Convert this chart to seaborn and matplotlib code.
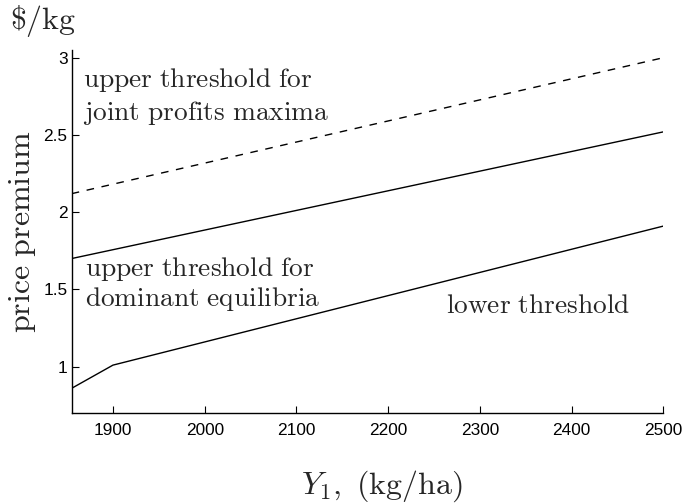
import matplotlib
matplotlib.use("Agg")
import matplotlib.pyplot as plt
import seaborn as sns
import pandas as pd

sns.set_theme(style="ticks")
plt.rcParams['font.family'] = ['Liberation Sans', 'DejaVu Sans']
plt.rcParams['mathtext.fontset'] = 'cm'

# Data
x_upper_joint = [1855, 2500]
y_upper_joint = [2.12, 3.00]
x_upper_dom = [1855, 2500]
y_upper_dom = [1.70, 2.52]
x_lower = [1855, 1900, 2500]
y_lower = [0.86, 1.01, 1.91]
x_ticks = [1900, 2000, 2100, 2200, 2300, 2400, 2500]
y_ticks = [1, 1.5, 2, 2.5, 3]
y_tick_labels = ["1", "1.5", "2", "2.5", "3"]

W, H = 685, 504
fig = plt.figure(figsize=(6.85, 5.04), dpi=100)
ax = fig.add_axes([71.7 / W, 1 - 413 / H, (663.3 - 71.7) / W, (413 - 50) / H])

df1 = pd.DataFrame({"x": x_upper_joint, "y": y_upper_joint})
df2 = pd.DataFrame({"x": x_upper_dom, "y": y_upper_dom})
df3 = pd.DataFrame({"x": x_lower, "y": y_lower})
sns.lineplot(data=df1, x="x", y="y", ax=ax, color="black", linewidth=1.0, linestyle=(0, (5.5, 5.5)))
sns.lineplot(data=df2, x="x", y="y", ax=ax, color="black", linewidth=1.0)
sns.lineplot(data=df3, x="x", y="y", ax=ax, color="black", linewidth=1.0)

ax.set_xlim(1855, 2500)
ax.set_ylim(0.70, 3.05)
ax.set_xticks(x_ticks)
ax.set_xticklabels([str(t) for t in x_ticks])
ax.set_yticks(y_ticks)
ax.set_yticklabels(y_tick_labels)
ax.tick_params(direction="in", length=5, width=0.8, labelsize=12.4, colors="black")
ax.tick_params(axis="x", pad=7.5)
ax.tick_params(axis="y", pad=3)
for s in ["top", "right"]:
    ax.spines[s].set_visible(False)
for s in ["left", "bottom"]:
    ax.spines[s].set_color("black")
    ax.spines[s].set_linewidth(1.0)

ax.set_xlabel(r"$Y_1,\ \mathrm{(kg/ha)}$", fontsize=23)
ax.set_ylabel(r"$\mathrm{price\ premium}$", fontsize=23)
ax.xaxis.set_label_coords((382 - 71.7) / 591.6, (413 - 469) / 363)
ax.yaxis.set_label_coords((38 - 71.7) / 591.6, 0.5)
fig.text(10 / W, 1 - 29 / H, r"$\mathrm{\$/kg}$", fontsize=23, ha="left", va="baseline")

tk = dict(fontsize=19.7, ha="left", va="baseline", transform=fig.transFigure)
ax.text(83 / W, 1 - 87 / H, r"$\mathrm{upper\ threshold\ for}$", **tk)
ax.text(83 / W, 1 - 120 / H, r"$\mathrm{joint\ profits\ maxima}$", **tk)
ax.text(85 / W, 1 - 276 / H, r"$\mathrm{upper\ threshold\ for}$", **tk)
ax.text(85 / W, 1 - 306 / H, r"$\mathrm{dominant\ equilibria}$", **tk)
ax.text(446 / W, 1 - 313 / H, r"$\mathrm{lower\ threshold}$", **tk)

fig.savefig("out.png", dpi=100)
